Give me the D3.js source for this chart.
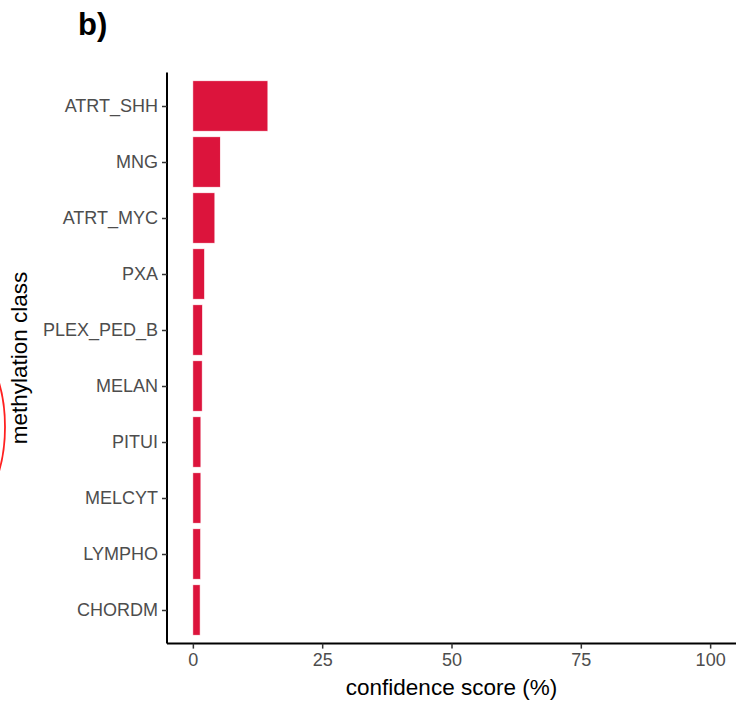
<!DOCTYPE html>
<html>
<head>
<meta charset="utf-8">
<script src="https://cdn.jsdelivr.net/npm/d3@7"></script>
<style>
  body { margin: 0; background: #fff; }
  text { font-family: "Liberation Sans", Arial, sans-serif; }
</style>
</head>
<body>
<svg width="737" height="707"></svg>
<script>
// chart data
const classes = ["ATRT_SHH", "MNG", "ATRT_MYC", "PXA", "PLEX_PED_B", "MELAN", "PITUI", "MELCYT", "LYMPHO", "CHORDM"];
const scores = [14.5, 5.3, 4.25, 2.25, 1.85, 1.8, 1.55, 1.55, 1.5, 1.4];
const xTicks = [0, 25, 50, 75, 100];

const data = classes.map((c, i) => ({ cls: c, score: scores[i] }));

const svg = d3.select('svg');

const panel = { left: 167, right: 736, top: 72.4, bottom: 643.6 };

const xScale = d3.scaleLinear()
    .domain([-5, 105])
    .range([panel.left, panel.right]);

// ggplot style discrete expansion: 0.6 units on each side
const step = (panel.bottom - panel.top) / (classes.length - 1 + 1.2);
const yScale = d3.scalePoint()
    .domain(classes)
    .range([panel.top + 0.6 * step, panel.bottom - 0.6 * step]);
const barH = step * 0.9;

// bars
svg.selectAll('rect.bar')
    .data(data)
    .enter()
    .append('rect')
    .attr('class', 'bar')
    .attr('x', xScale(0))
    .attr('y', d => yScale(d.cls) - barH / 2)
    .attr('width', d => xScale(d.score) - xScale(0))
    .attr('height', barH)
    .attr('fill', '#DC143C')
    .attr('stroke', '#ffffff')
    .attr('stroke-width', 0.6);

// x axis
const xAxis = svg.append('g')
    .attr('transform', `translate(0,${panel.bottom})`)
    .call(d3.axisBottom(xScale).tickValues(xTicks).tickSize(5).tickPadding(5));
xAxis.select('.domain')
    .attr('d', `M${panel.left},0H${panel.right}`)
    .attr('stroke', '#000').attr('stroke-width', 2);
xAxis.selectAll('.tick line').attr('stroke', '#333').attr('stroke-width', 1.5);
xAxis.selectAll('.tick text')
    .attr('fill', '#4d4d4d')
    .style('font-size', '18px')
    .style('font-family', '"Liberation Sans", Arial, sans-serif');

// y axis
const yAxis = svg.append('g')
    .attr('transform', `translate(${panel.left},0)`)
    .call(d3.axisLeft(yScale).tickSize(5).tickPadding(4));
yAxis.select('.domain')
    .attr('d', `M0,${panel.top}V${panel.bottom}`)
    .attr('stroke', '#000').attr('stroke-width', 2);
yAxis.selectAll('.tick line').attr('stroke', '#333').attr('stroke-width', 1.5);
yAxis.selectAll('.tick text')
    .attr('fill', '#4d4d4d')
    .style('font-size', '18px')
    .style('font-family', '"Liberation Sans", Arial, sans-serif');

// axis titles
svg.append('text')
    .attr('x', (panel.left + panel.right) / 2)
    .attr('y', 695)
    .attr('text-anchor', 'middle')
    .style('font-size', '22.5px')
    .attr('fill', '#000')
    .text('confidence score (%)');

svg.append('text')
    .attr('transform', `translate(27,${(panel.top + panel.bottom) / 2}) rotate(-90)`)
    .attr('text-anchor', 'middle')
    .style('font-size', '22.5px')
    .attr('fill', '#000')
    .text('methylation class');

// panel tag
svg.append('text')
    .attr('x', 78)
    .attr('y', 35)
    .style('font-size', '31px')
    .style('font-weight', 'bold')
    .attr('fill', '#000')
    .text('b)');

// red annotation arc at the left edge
svg.append('ellipse')
    .attr('cx', -40)
    .attr('cy', 427)
    .attr('rx', 45)
    .attr('ry', 88)
    .attr('fill', 'none')
    .attr('stroke', '#ff2020')
    .attr('stroke-width', 1.8);
</script>
</body>
</html>
